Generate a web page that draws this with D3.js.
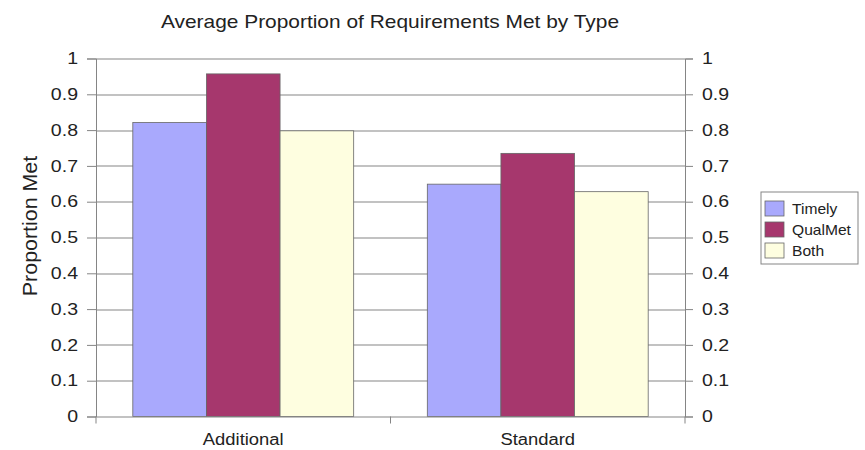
<!DOCTYPE html>
<html>
<head>
<meta charset="utf-8">
<script src="https://cdn.jsdelivr.net/npm/d3@7"></script>
<style>
  html, body { margin: 0; padding: 0; background: #fff; }
  text { font-family: "Liberation Sans", Arial, sans-serif; fill: #222; }
</style>
</head>
<body>
<div id="chart"></div>
<script>
// chart data
const categories = ['Additional', 'Standard'];
const seriesNames = ['Timely', 'QualMet', 'Both'];
const timely = [0.821, 0.649];
const qualMet = [0.957, 0.735];
const both = [0.798, 0.628];
const yTicks = [0, 0.1, 0.2, 0.3, 0.4, 0.5, 0.6, 0.7, 0.8, 0.9, 1];

const colors = ['#a9a9fd', '#a6376d', '#fefee0'];
const seriesValues = [timely, qualMet, both];

const width = 865;
const height = 450;
const margin = { top: 58.5, right: 180, bottom: 33.5, left: 96 };
const innerW = width - margin.left - margin.right;
const innerH = height - margin.top - margin.bottom;

// the source picture has slightly wide lettering, so glyphs get stretched a bit
const stretch = (sel, k) => sel.each(function () {
  const w = this.getComputedTextLength();
  d3.select(this).attr('textLength', w * k).attr('lengthAdjust', 'spacingAndGlyphs');
});

const svg = d3.select('#chart')
  .append('svg')
  .attr('width', width)
  .attr('height', height);

const g = svg.append('g')
  .attr('transform', `translate(${margin.left}, ${margin.top})`);

const x = d3.scaleBand()
  .domain(categories)
  .range([0, innerW]);

const inner = d3.scaleBand()
  .domain(seriesNames)
  .range([0, x.bandwidth()])
  .paddingOuter(0.5)
  .paddingInner(0);

const y = d3.scaleLinear()
  .domain([0, 1])
  .range([innerH, 0]);

// gridlines
g.append('g')
  .selectAll('line')
  .data(yTicks.filter(d => d > 0))
  .join('line')
  .attr('x1', 0)
  .attr('x2', innerW)
  .attr('y1', d => Math.round(y(d)) + 0.5)
  .attr('y2', d => Math.round(y(d)) + 0.5)
  .attr('stroke', '#858585')
  .attr('stroke-width', 1);

// bars
const rows = categories.map((c, i) => ({ cat: c, vals: seriesNames.map((s, j) => ({ s, j, v: seriesValues[j][i] })) }));

g.append('g')
  .selectAll('g')
  .data(rows)
  .join('g')
  .attr('transform', d => `translate(${x(d.cat)}, 0)`)
  .selectAll('rect')
  .data(d => d.vals)
  .join('rect')
  .attr('x', d => inner(d.s))
  .attr('y', d => y(d.v))
  .attr('width', inner.bandwidth())
  .attr('height', d => innerH - y(d.v))
  .attr('fill', d => colors[d.j])
  .attr('stroke', '#666')
  .attr('stroke-width', 0.8);

// axes
const fmt = d3.format('');
const leftAxis = d3.axisLeft(y).tickValues(yTicks).tickFormat(fmt).tickSizeOuter(0).tickSize(9).tickPadding(9);
const rightAxis = d3.axisRight(y).tickValues(yTicks).tickFormat(fmt).tickSizeOuter(0).tickSize(8).tickPadding(9);
const bottomAxis = d3.axisBottom(x).tickSize(0).tickPadding(17);

const styleAxis = (sel, fs, k) => {
  sel.selectAll('path, line').attr('stroke', '#858585');
  sel.selectAll('text').style('font-size', fs).attr('fill', '#222').call(stretch, k);
};

g.append('g').call(leftAxis).call(styleAxis, '16px', 1.22);
g.append('g').attr('transform', `translate(${innerW}, 0)`).call(rightAxis).call(styleAxis, '16px', 1.22);
g.append('g').attr('transform', `translate(0, ${innerH})`).call(bottomAxis).call(styleAxis, '16px', 1.15);

// category boundary ticks on the x axis
g.append('g')
  .selectAll('line')
  .data(d3.range(categories.length + 1))
  .join('line')
  .attr('x1', d => d * x.step())
  .attr('x2', d => d * x.step())
  .attr('y1', innerH)
  .attr('y2', innerH + 7)
  .attr('stroke', '#858585');

// title and axis label
svg.append('text')
  .attr('x', 390)
  .attr('y', 28)
  .attr('text-anchor', 'middle')
  .style('font-size', '19px')
  .text('Average Proportion of Requirements Met by Type')
  .call(stretch, 1.1);

svg.append('text')
  .attr('transform', `translate(37, 226) rotate(-90)`)
  .attr('text-anchor', 'middle')
  .style('font-size', '20px')
  .text('Proportion Met')
  .call(stretch, 1.07);

// legend
const legend = svg.append('g').attr('transform', 'translate(761, 192)');
legend.append('rect')
  .attr('width', 97)
  .attr('height', 72)
  .attr('fill', '#fff')
  .attr('stroke', '#858585');

const item = legend.selectAll('g')
  .data(seriesNames)
  .join('g')
  .attr('transform', (d, i) => `translate(4, ${9 + i * 21})`);

item.append('rect')
  .attr('width', 19)
  .attr('height', 15)
  .attr('fill', (d, i) => colors[i])
  .attr('stroke', '#666')
  .attr('stroke-width', 0.8);

item.append('text')
  .attr('x', 27)
  .attr('y', 13)
  .style('font-size', '15px')
  .text(d => d)
  .call(stretch, 1.04);
</script>
</body>
</html>
